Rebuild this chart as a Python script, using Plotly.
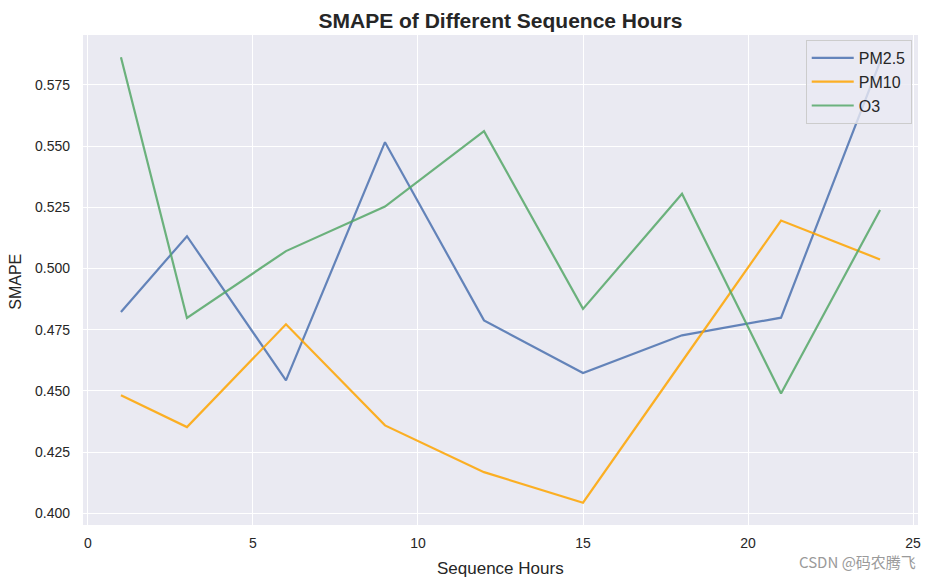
import plotly.graph_objects as go

hours = [1, 3, 6, 9, 12, 15, 18, 21, 24]
pm25 = [0.4822, 0.5132, 0.4543, 0.5516, 0.4788, 0.4573, 0.4727, 0.4799, 0.5844]
pm10 = [0.4482, 0.4352, 0.4772, 0.4359, 0.4168, 0.4043, 0.4620, 0.5196, 0.5037]
o3 = [0.5863, 0.4798, 0.5071, 0.5253, 0.5561, 0.4835, 0.5305, 0.4489, 0.5239]
series_names = ["PM2.5", "PM10", "O3"]
series_colors = ["#4C72B0", "#FFA500", "#55A868"]
y_ticks = [0.400, 0.425, 0.450, 0.475, 0.500, 0.525, 0.550, 0.575]
x_ticks = [0, 5, 10, 15, 20, 25]

fig = go.Figure()
for name, vals, col in zip(series_names, [pm25, pm10, o3], series_colors):
    fig.add_trace(go.Scatter(x=hours, y=vals, mode="lines", name=name,
                             line=dict(color=col, width=2.2), opacity=0.85))

# matplotlib-style 5% margins
all_vals = pm25 + pm10 + o3
ymin, ymax = min(all_vals), max(all_vals)
ypad = (ymax - ymin) * 0.05
xpad = (max(hours) - min(hours)) * 0.05

font_fam = "Liberation Sans, Arial, sans-serif"
fig.update_layout(
    width=924, height=570,
    margin=dict(l=75.35, r=13.75, t=27, b=53, autoexpand=False),
    paper_bgcolor="white",
    plot_bgcolor="#EAEAF2",
    font=dict(family=font_fam, size=14, color="#262626"),
    title=dict(text="<b>SMAPE of Different Sequence Hours</b>", xref="paper", x=0.5, xanchor="center",
               y=0.978, yanchor="middle", font=dict(size=21, color="#262626")),
    showlegend=True,
    legend=dict(x=0.9925, y=0.9898, xanchor="right", yanchor="top", itemwidth=42,
                bgcolor="rgba(234,234,242,0.8)", bordercolor="#CCCCCC", borderwidth=1,
                font=dict(size=16, color="#262626")),
)
fig.update_xaxes(range=[min(hours) - xpad, max(hours) + xpad], automargin=False,
                 tickvals=x_ticks, showgrid=True, gridcolor="white", gridwidth=1.3,
                 zeroline=False, showline=False, ticks="", ticklabelstandoff=8,
                 tickfont=dict(size=14))
fig.update_yaxes(range=[ymin - ypad, ymax + ypad], automargin=False,
                 tickvals=y_ticks, tickformat=".3f", showgrid=True, gridcolor="white", gridwidth=1.3,
                 zeroline=False, showline=False, ticks="", ticklabelstandoff=12,
                 tickfont=dict(size=14))

# axis titles
fig.add_annotation(text="Sequence Hours", xref="paper", yref="paper", x=0.5, y=-0.0878,
                   xanchor="center", yanchor="middle", showarrow=False,
                   font=dict(size=17, color="#262626"))
fig.add_annotation(text="SMAPE", xref="paper", yref="paper", x=-0.0805, y=0.496,
                   xanchor="center", yanchor="middle", showarrow=False, textangle=-90,
                   font=dict(size=16, color="#262626"))

fig.add_annotation(text="CSDN @码农腾飞", xref="paper", yref="paper", x=0.9997, y=-0.074,
                   xanchor="right", yanchor="middle", showarrow=False,
                   font=dict(family="Noto Sans CJK SC, sans-serif", size=15, color="#9A9A9A"))

fig.write_html("out.html")
